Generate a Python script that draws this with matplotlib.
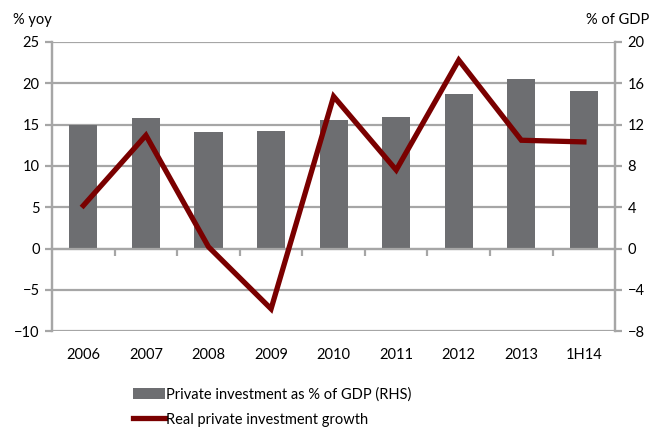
import matplotlib.pyplot as plt
from matplotlib.patches import Patch
from matplotlib.lines import Line2D

plt.rcParams['font.family'] = ['Lato', 'DejaVu Sans']

periods = ['2006', '2007', '2008', '2009', '2010', '2011', '2012', '2013', '1H14']
invest_share = [12.0, 12.6, 11.3, 11.4, 12.45, 12.7, 15.0, 16.4, 15.25]   # % of GDP (RHS)
invest_growth = [5.2, 13.7, 0.2, -7.3, 18.4, 9.5, 22.8, 13.1, 12.9]       # % yoy

bar_color = '#6d6e71'
line_color = '#7a0000'
grid_color = '#a6a6a6'

fig = plt.figure(figsize=(6.51, 4.41), dpi=100)
ax = fig.add_axes([0.080, 0.249, 0.865, 0.656])
ax2 = ax.twinx()

x = list(range(len(periods)))

ax2.bar(x, invest_share, width=0.45, color=bar_color, zorder=2)
ax.plot(x, invest_growth, color=line_color, lw=3.8, solid_joinstyle='miter', zorder=5)

# line above the bars
ax.set_zorder(ax2.get_zorder() + 1)
ax.patch.set_visible(False)

ax.set_xlim(-0.5, len(periods) - 0.5)
ax.set_ylim(-10, 25)
ax.set_yticks(range(-10, 26, 5))
ax2.set_ylim(-8, 20)
ax2.set_yticks(range(-8, 21, 4))

# both scales have 8 aligned ticks, so the RHS grid sits behind the bars
ax2.set_axisbelow(True)
ax2.yaxis.grid(True, color=grid_color, lw=1.6)

ax.set_xticks(x)
ax.set_xticklabels(periods)
ax.tick_params(axis='x', length=0, pad=12, labelsize=10.5)
ax.tick_params(axis='y', direction='out', length=5, width=1.6, color=grid_color, labelsize=10.5, pad=4)
ax2.tick_params(axis='y', direction='out', length=5, width=1.6, color=grid_color, labelsize=10.5, pad=4)

for a in (ax, ax2):
    for side in ('top', 'bottom'):
        a.spines[side].set_visible(False)
    for side in ('left', 'right'):
        a.spines[side].set_color(grid_color)
        a.spines[side].set_linewidth(1.6)

# category axis crossing at zero with ticks between periods
zero_pos = (0 - ax.get_ylim()[0]) / (ax.get_ylim()[1] - ax.get_ylim()[0])
sec = ax.secondary_xaxis(zero_pos)
sec.set_xticks([i + 0.5 for i in x[:-1]])
sec.set_xticklabels([])
sec.tick_params(direction='out', length=5, width=1.6, color=grid_color)
sec.spines['bottom'].set_color(grid_color)
sec.spines['bottom'].set_linewidth(1.6)

fig.text(0.020, 0.955, '% yoy', fontsize=10.5, va='center', ha='left')
fig.text(0.997, 0.955, '% of GDP', fontsize=10.5, va='center', ha='right')

handles = [Patch(facecolor=bar_color, edgecolor='none'),
           Line2D([0], [0], color=line_color, lw=3.8)]
labels = ['Private investment as % of GDP (RHS)', 'Real private investment growth']
fig.legend(handles, labels, loc='upper left', bbox_to_anchor=(0.195, 0.135),
           frameon=False, fontsize=10.5, handlelength=2.2, handletextpad=0.1,
           labelspacing=0.75, borderaxespad=0)

fig.savefig('out.png', dpi=100)
